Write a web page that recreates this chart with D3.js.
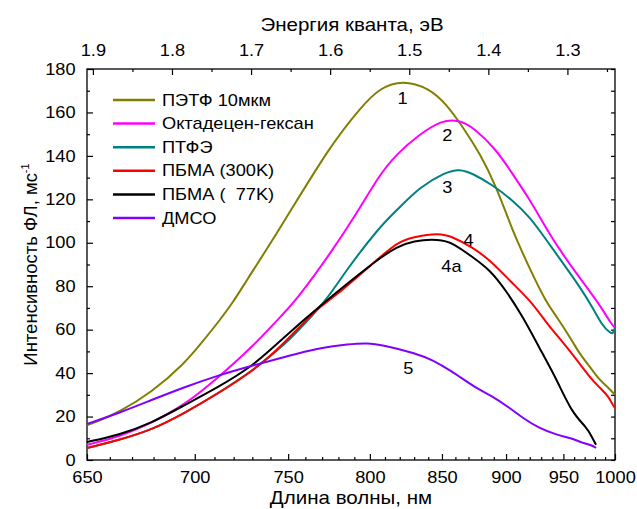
<!DOCTYPE html>
<html>
<head>
<meta charset="utf-8">
<script src="https://cdn.jsdelivr.net/npm/d3@7"></script>
<style>
body { margin: 0; background: #fff; }
svg { font-family: Arial, "Liberation Sans", sans-serif; }
.axis text { font-size: 16px; fill: #000; }
.axis line { stroke: #000; stroke-width: 1.2; }
</style>
</head>
<body>
<svg id="chart" width="637" height="509"></svg>
<script>
// spectra: [wavelength nm, intensity ms^-1]
var petf = [[650,16],[654,17.6],[664,22],[679,31],[695,44.5],[703,53.5],[712,63.5],[720,73],[726,81.5],[745,106],[775,145],[795,163],[806,171],[822,175],[841,171],[853,164],[866,153],[879,141],[892,126],[905,106],[920,88],[935,72],[944,66],[958,55],[965,49],[975,43],[984,37],[994,33],[1000,30]];
var octadecene = [[650,7],[664,10.6],[679,17],[695,25.3],[712,38],[730,52],[748,68],[755,74],[775,95],[792,114],[806,131],[818,141],[834,150],[850,156.5],[863,156.5],[874,153],[892,143],[905,132],[920,120],[935,106],[949,95],[965,84],[984,72],[997,62],[1000,61]];
var ptfe = [[650,5.5],[664,9.2],[679,13.8],[695,21.6],[712,30.8],[730,41],[748,53],[760,63],[773,74],[785,87.5],[806,107],[818,115],[834,125.7],[853,132.6],[863,134],[873,132],[889,126.6],[905,119.7],[920,112],[935,101],[949,91],[965,80],[978,70],[987,62],[995,58.5],[998,58],[1000,61]];
var pbma300 = [[650,5.5],[664,9.2],[679,13.8],[695,21.6],[712,30.8],[729,40],[747,53],[767,70],[776,74],[806,93],[818,100],[829,102.7],[848,104.5],[858,102.7],[873,98],[887,92],[905,81.5],[920,73.7],[935,63],[944,57.5],[958,49],[975,38],[984,33.6],[994,29],[998,25],[1000,24]];
var pbma77 = [[650,8.3],[664,11.5],[679,17],[695,25.3],[712,33.6],[730,43],[747,56],[767,70],[806,93],[818,98],[829,101],[848,101.7],[858,100],[873,93.5],[887,87.5],[900,78],[914,66],[928,52],[944,37],[958,21.6],[972,15],[977,10.6],[981,7]];
var dmso = [[650,16.6],[664,21.6],[679,27.6],[695,33.6],[712,39],[730,43.5],[748,47.4],[767,51.5],[787,53.4],[798,53.9],[808,53],[832,49],[843,46],[856,41.4],[876,33],[887,30],[903,24],[915,19],[928,14.7],[944,11.5],[958,10],[968,7.8],[977,6.9],[981,5.5]];

var seriesNames = ["ПЭТФ 10мкм", "Октадецен-гексан", "ПТФЭ", "ПБМА (300K)", "ПБМА (  77K)", "ДМСО"];
var seriesColors = ["#808000", "#ff00ff", "#008080", "#ff0000", "#000000", "#8000ff"];
var seriesData = [petf, octadecene, ptfe, pbma300, pbma77, dmso];

var nmMajor = [650, 700, 750, 800, 850, 900, 950, 1000];
var nmMinor = [660,670,680,690,710,720,730,740,760,770,780,790,810,820,830,840,860,870,880,890,910,920,930,940,960,970,980,990];
var evMajor = [1.9, 1.8, 1.7, 1.6, 1.5, 1.4, 1.3];
var evMinor = [1.85, 1.75, 1.65, 1.55, 1.45, 1.35, 1.25];
var yMajor = [0, 20, 40, 60, 80, 100, 120, 140, 160, 180];
var yMinor = [10, 30, 50, 70, 90, 110, 130, 150, 170];

var curveLabels = [["1", 822, 166.7], ["2", 854, 149.6], ["3", 854, 125.7], ["4", 870, 101.3], ["4a", 857, 88.9], ["5", 826, 42.4]];

var HC = 1239.84; // eV*nm
var SX = 1.14;     // text in the original is a bit wide

var svg = d3.select("#chart");
var margin = {top: 69, right: 22, bottom: 49, left: 87};
var width = +svg.attr("width") - margin.left - margin.right;
var height = +svg.attr("height") - margin.top - margin.bottom;

var g = svg.append("g").attr("transform", "translate(" + margin.left + "," + margin.top + ")");

// plot is linear in photon energy, bottom axis shows wavelength
var x = d3.scaleLinear().domain([HC / 650, HC / 1000]).range([0, width]);
var y = d3.scaleLinear().domain([0, 180]).range([height, 0]);
var ev = function(nm) { return HC / nm; };

g.append("g").attr("class", "axis")
  .attr("transform", "translate(0," + height + ")")
  .call(d3.axisBottom(x).tickValues(nmMajor.map(ev)).tickSizeInner(-6).tickSizeOuter(0).tickPadding(12)
    .tickFormat(function(d) { return Math.round(HC / d); }));
g.append("g").attr("class", "axis")
  .attr("transform", "translate(0," + height + ")")
  .call(d3.axisBottom(x).tickValues(nmMinor.map(ev)).tickSizeInner(-3).tickSizeOuter(0).tickFormat(""));

g.append("g").attr("class", "axis")
  .call(d3.axisTop(x).tickValues(evMajor).tickSizeInner(-6).tickSizeOuter(0).tickPadding(13)
    .tickFormat(d3.format(".1f")));
g.append("g").attr("class", "axis")
  .call(d3.axisTop(x).tickValues(evMinor).tickSizeInner(-3).tickSizeOuter(0).tickFormat(""));

g.append("g").attr("class", "axis")
  .call(d3.axisLeft(y).tickValues(yMajor).tickSizeInner(-6).tickSizeOuter(0).tickPadding(10));
g.append("g").attr("class", "axis")
  .call(d3.axisLeft(y).tickValues(yMinor).tickSizeInner(-3).tickSizeOuter(0).tickFormat(""));

g.append("g").attr("class", "axis")
  .attr("transform", "translate(" + width + ",0)")
  .call(d3.axisRight(y).tickValues(yMajor.concat(yMinor)).tickSizeInner(-4).tickSizeOuter(0).tickFormat(""));

g.selectAll(".axis .domain").remove();
g.selectAll(".axis text").attr("transform", "scale(" + SX + ",1)");

g.append("rect")
  .attr("width", width).attr("height", height)
  .attr("fill", "none").attr("stroke", "#000").attr("stroke-width", 1.3);

var line = d3.line()
  .x(function(d) { return x(ev(d[0])); })
  .y(function(d) { return y(d[1]); })
  .curve(d3.curveBasis);

g.selectAll(".spec")
  .data(seriesData)
  .enter().append("path")
    .attr("class", "spec")
    .attr("d", line)
    .attr("fill", "none")
    .attr("stroke", function(d, i) { return seriesColors[i]; })
    .attr("stroke-width", 2);

// legend
var leg = g.selectAll(".leg")
  .data(seriesNames)
  .enter().append("g")
    .attr("class", "leg")
    .attr("transform", function(d, i) { return "translate(26," + (31 + i * 23.6) + ")"; });
leg.append("line")
  .attr("x1", 0).attr("x2", 42)
  .attr("stroke", function(d, i) { return seriesColors[i]; })
  .attr("stroke-width", 2.5);
leg.append("text")
  .attr("transform", "translate(49,0) scale(" + SX + ",1)")
  .attr("dy", "0.35em")
  .style("font-size", "16px")
  .style("white-space", "pre")
  .text(function(d) { return d; });

g.selectAll(".num")
  .data(curveLabels)
  .enter().append("text")
    .attr("class", "num")
    .attr("transform", function(d) { return "translate(" + x(ev(d[1])) + "," + y(d[2]) + ") scale(" + SX + ",1)"; })
    .attr("dy", "0.35em")
    .attr("text-anchor", "middle")
    .style("font-size", "16px")
    .text(function(d) { return d[0]; });

// titles
svg.append("text")
  .attr("transform", "translate(352,31) scale(" + SX + ",1)")
  .attr("text-anchor", "middle")
  .style("font-size", "18px")
  .text("Энергия кванта, эВ");

svg.append("text")
  .attr("transform", "translate(351,504) scale(" + SX + ",1)")
  .attr("text-anchor", "middle")
  .style("font-size", "18px")
  .text("Длина волны, нм");

var yt = svg.append("text")
  .attr("transform", "translate(37," + (margin.top + height / 2) + ") rotate(-90)")
  .attr("text-anchor", "middle")
  .style("font-size", "18.5px");
yt.append("tspan").text("Интенсивность ФЛ, мс");
yt.append("tspan").attr("dy", "-8").style("font-size", "11px").text("-1");
</script>
</body>
</html>
